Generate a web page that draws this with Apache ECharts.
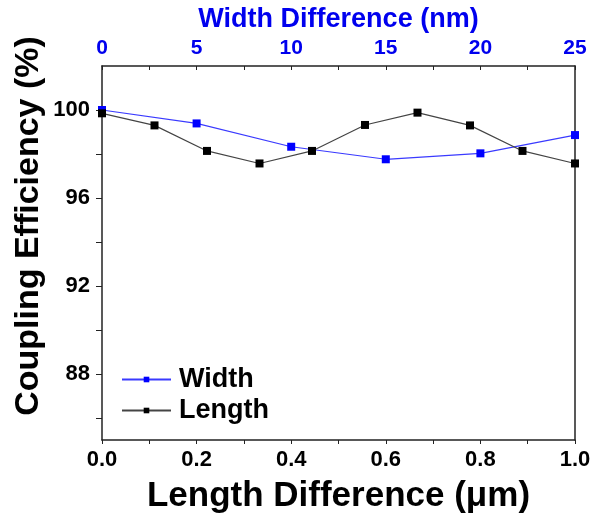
<!DOCTYPE html>
<html>
<head>
<meta charset="utf-8">
<script src="https://cdn.jsdelivr.net/npm/echarts@6/dist/echarts.min.js"></script>
<style>html,body{margin:0;padding:0;background:#fff}#c{width:594px;height:518px}</style>
</head>
<body>
<div id="c"></div>
<script>
// Data
const lengthX = [0, 0.111, 0.222, 0.333, 0.444, 0.556, 0.667, 0.778, 0.889, 1.0];
const lengthY = [99.85, 99.3, 98.14, 97.57, 98.14, 99.32, 99.88, 99.3, 98.14, 97.57];
const widthX = [0, 5, 10, 15, 20, 25];
const widthY = [100.0, 99.39, 98.33, 97.76, 98.03, 98.86];
const bottomLabels = [0, 0.2, 0.4, 0.6, 0.8, 1.0];
const bottomTicks = [0, 0.1, 0.2, 0.3, 0.4, 0.5, 0.6, 0.7, 0.8, 0.9, 1.0];
const topLabels = [0, 5, 10, 15, 20, 25];
const topTicks = [0, 2.5, 5, 7.5, 10, 12.5, 15, 17.5, 20, 22.5, 25];
const yLabels = [88, 92, 96, 100];
const yTicks = [86, 88, 90, 92, 94, 96, 98, 100];
const yTitle = 'Coupling Efficiency (%)';

const FONT = '"Liberation Sans", Arial, sans-serif';
const chart = echarts.init(document.getElementById('c'), null, {renderer: 'canvas'});
const axisLineStyle = {color: '#222', width: 1.5};
chart.setOption({
  animation: false,
  backgroundColor: '#fff',
  grid: {left: 102, right: 19, top: 66, bottom: 78, containLabel: false, outerBoundsMode: 'none'},
  legend: {
    orient: 'vertical', left: 116, top: 361, itemWidth: 49, itemHeight: 7, itemGap: 4,
    textStyle: {fontFamily: FONT, fontWeight: 'bold', fontSize: 27, color: '#000', padding: [0,0,0,3]},
    data: ['Width', 'Length']
  },
  graphic: [{
    type: 'text', x: 29, y: 226, rotation: Math.PI / 2,
    style: {text: yTitle, fill: '#000', align: 'center', verticalAlign: 'middle',
      font: 'bold 34px "Liberation Sans", Arial, sans-serif'}
  }],
  xAxis: [
    {
      type: 'value', position: 'bottom', min: 0, max: 1,
      name: 'Length Difference (\u03bcm)', nameLocation: 'middle', nameGap: 39,
      nameTextStyle: {fontFamily: FONT, fontWeight: 'bold', fontSize: 35, color: '#000'},
      axisLine: {show: true, onZero: false, lineStyle: axisLineStyle},
      axisTick: {show: true, inside: false, length: 4, customValues: bottomTicks, lineStyle: {color: '#222', width: 1}},
      axisLabel: {customValues: bottomLabels, formatter: v => v.toFixed(1), margin: 9,
        fontFamily: FONT, fontWeight: 'bold', fontSize: 22, color: '#000'},
      splitLine: {show: false}
    },
    {
      type: 'value', position: 'top', min: 0, max: 25,
      name: 'Width Difference (nm)', nameLocation: 'middle', nameGap: 33,
      nameTextStyle: {fontFamily: FONT, fontWeight: 'bold', fontSize: 27, color: '#0000ee'},
      axisLine: {show: true, onZero: false, lineStyle: axisLineStyle},
      axisTick: {show: true, inside: true, length: 4, customValues: topTicks, lineStyle: {color: '#222', width: 1}},
      axisLabel: {customValues: topLabels, margin: 7,
        fontFamily: FONT, fontWeight: 'bold', fontSize: 21, color: '#0000ee'},
      splitLine: {show: false}
    }
  ],
  yAxis: [
    {
      type: 'value', position: 'left', min: 85, max: 102,
      axisLine: {show: true, onZero: false, lineStyle: axisLineStyle},
      axisTick: {show: true, inside: false, length: 6, customValues: yTicks, lineStyle: {color: '#222', width: 1}},
      axisLabel: {customValues: yLabels, margin: 12,
        fontFamily: FONT, fontWeight: 'bold', fontSize: 22, color: '#000'},
      splitLine: {show: false}
    },
    {
      type: 'value', position: 'right', min: 85, max: 102,
      axisLine: {show: true, onZero: false, lineStyle: axisLineStyle},
      axisTick: {show: false}, axisLabel: {show: false}, splitLine: {show: false}
    }
  ],
  series: [
    {
      name: 'Width', type: 'line', xAxisIndex: 1, yAxisIndex: 0,
      data: widthX.map((x, i) => [x, widthY[i]]),
      symbol: 'rect', symbolSize: 8,
      lineStyle: {color: '#3a3aff', width: 1.2},
      itemStyle: {color: '#0000ff'}
    },
    {
      name: 'Length', type: 'line', xAxisIndex: 0, yAxisIndex: 0,
      data: lengthX.map((x, i) => [x, lengthY[i]]),
      symbol: 'rect', symbolSize: 8,
      lineStyle: {color: '#444', width: 1.2},
      itemStyle: {color: '#000'}
    }
  ]
});
</script>
</body>
</html>
